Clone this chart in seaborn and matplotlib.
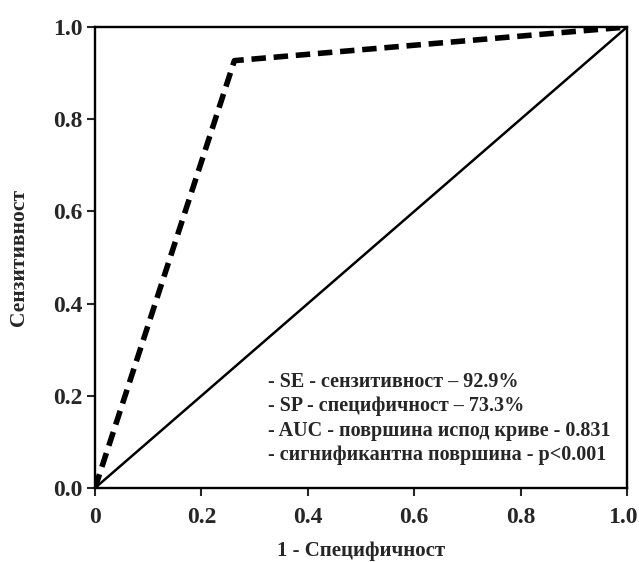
import matplotlib
matplotlib.use("Agg")
import matplotlib.pyplot as plt
import matplotlib.transforms as mtransforms
import seaborn as sns
import pandas as pd

# ROC points
fpr = [0.0, 0.262, 1.0]
tpr = [0.0, 0.927, 1.0]
ref = [0.0, 1.0]

xticks = [0, 0.2, 0.4, 0.6, 0.8, 1.0]
xticklabels = ["0", "0.2", "0.4", "0.6", "0.8", "1.0"]
yticks = [0.0, 0.2, 0.4, 0.6, 0.8, 1.0]
yticklabels = ["0.0", "0.2", "0.4", "0.6", "0.8", "1.0"]

notes = ["- SE - сензитивност – 92.9%",
         "- SP - специфичност – 73.3%",
         "- AUC - површина испод криве - 0.831",
         "- сигнификантна површина - p<0.001"]

sns.set_style("ticks")
plt.rcParams['font.family'] = ['Liberation Serif', 'DejaVu Serif']
plt.rcParams['font.weight'] = 'bold'

df = pd.DataFrame({'fpr': fpr, 'tpr': tpr})

fig = plt.figure(figsize=(6.39, 5.62), dpi=100)
ax = fig.add_axes([0.1487, 0.1317, 0.8326, 0.8203])

sns.lineplot(x=ref, y=ref, color='black', linewidth=1.8, ax=ax)
sns.lineplot(data=df, x='fpr', y='tpr', color='black', linewidth=4,
             linestyle=(0, (2.6, 1.4)), ax=ax)

ax.set_xlim(0, 1)
ax.set_ylim(0, 1)
ax.set_xticks(xticks)
ax.set_xticklabels(xticklabels, fontweight='bold')
ax.set_yticks(yticks)
ax.set_yticklabels(yticklabels, fontweight='bold')
ax.tick_params(axis='both', labelsize=17, length=6, width=1.5, direction='out')
ax.tick_params(axis='x', pad=8)
ax.tick_params(axis='y', pad=3)
for s in ax.spines.values():
    s.set_linewidth(1.7)
    s.set_color('black')

# nudge the last x label so it stays inside the figure
last = ax.get_xticklabels()[-1]
last.set_transform(last.get_transform() +
                   mtransforms.ScaledTranslation(-3/72, 0, fig.dpi_scale_trans))

ax.set_xlabel("1 - Специфичност", fontsize=15, fontweight='bold', labelpad=9)
ax.set_ylabel("Сензитивност", fontsize=15.5, fontweight='bold', labelpad=17)

ax.text(0.325, 0.252, "\n".join(notes), transform=ax.transAxes,
        fontsize=14.5, fontweight='bold', va='top', ha='left', linespacing=1.3)

fig.savefig("out.png", dpi=100)
